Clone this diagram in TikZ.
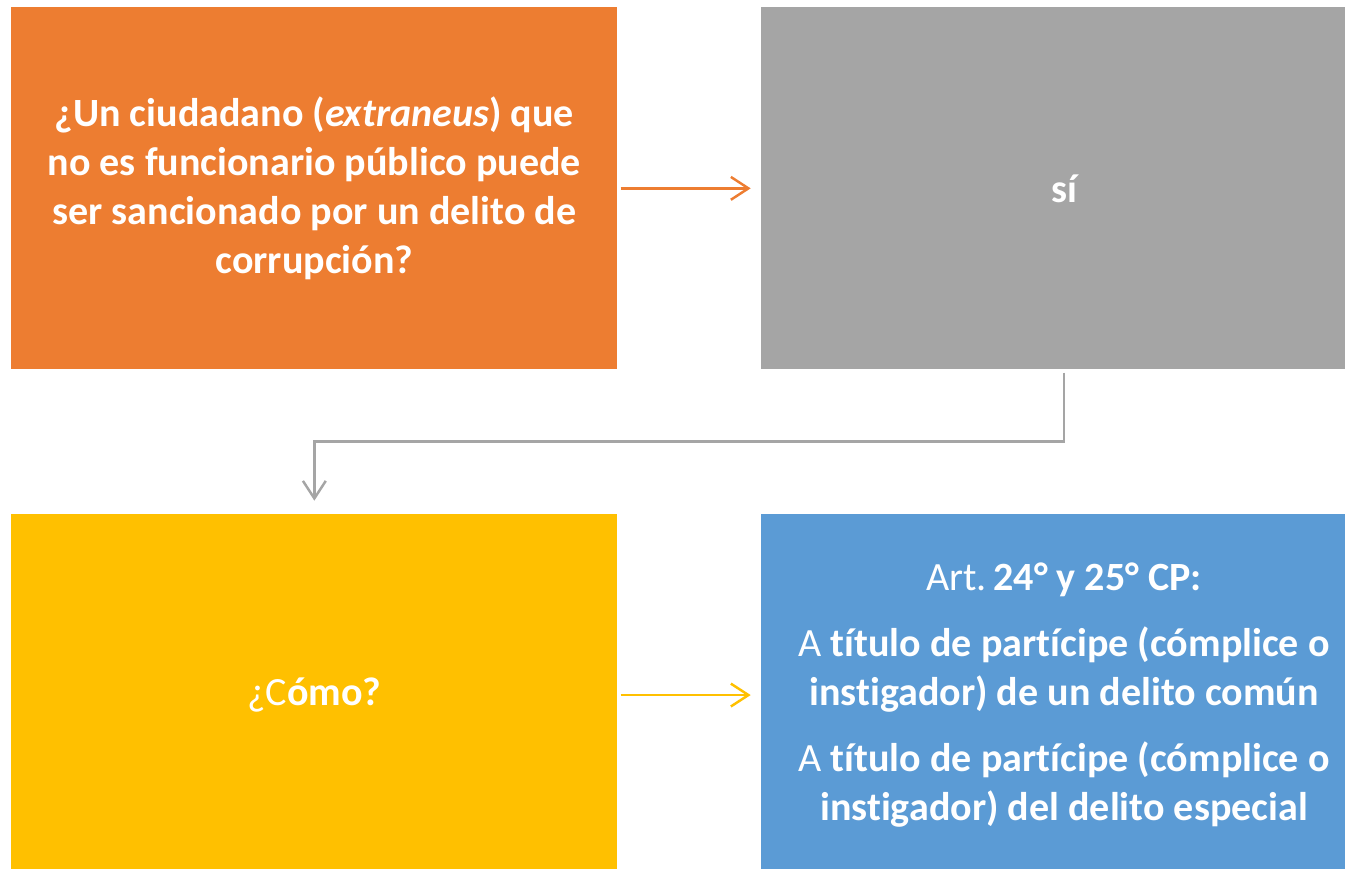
\documentclass[tikz,border=0pt]{standalone}
\usepackage{fontspec}
\setmainfont{Carlito}[Ligatures=NoCommon]
\usepackage{xcolor}
\usepackage{tikz}
\usetikzlibrary{arrows.meta, positioning, calc}
\definecolor{naranja}{HTML}{ED7D31}
\definecolor{gris}{HTML}{A5A5A5}
\definecolor{amarillo}{HTML}{FFC000}
\definecolor{azul}{HTML}{5B9BD5}
\tikzstyle{arrow} = [line width=1.4pt, -{Straight Barb[length=10pt, width=13pt]}, shorten <=0.06cm, shorten >=0.2cm]

\begin{document}
\begin{tikzpicture}[node distance=2.86cm and 2.86cm, on grid=false]
        \tikzstyle{caja}=[
            rectangle,
            minimum width=12.12cm,
            minimum height=7.24cm, % all boxes same size
            inner sep=0pt,
            align=center,
            text=white,
            font=\fontsize{22.8}{27.8}\selectfont
        ]

        \useasboundingbox (0,0) rectangle (26.9,-17.38);

        \node[caja, fill=naranja, anchor=north west] (pregunta) at (0.22,-0.14)
            {\bfseries ¿Un ciudadano (\textit{extraneus}) que\\
             \bfseries no es funcionario público puede\\
             \bfseries ser sancionado por un delito de\\
             \bfseries corrupción?};
        \node[caja, fill=gris] (si) [right=of pregunta] {\bfseries sí};
        \node[caja, fill=amarillo] (como) [below=2.88cm of pregunta] {¿C\textbf{ómo?}};
        \node[caja, fill=azul] (articulo) [right=of como]
            {Art.\,\textbf{24° y 25° CP:}\\[9.6pt]
             A \textbf{título de partícipe (cómplice o}\\
             \textbf{instigador) de un delito común}\\[9.6pt]
             A \textbf{título de partícipe (cómplice o}\\
             \textbf{instigador) del delito especial}};

        \coordinate (codo) at ($(si.south)!0.5!(como.north)$);

        \draw[arrow, naranja] (pregunta) -- (si);
        \draw[arrow, gris, shorten >=0.26cm] (si.south) |- (codo) -| (como.north);
        \draw[arrow, amarillo] (como) -- (articulo);

    \end{tikzpicture}
\end{document}
